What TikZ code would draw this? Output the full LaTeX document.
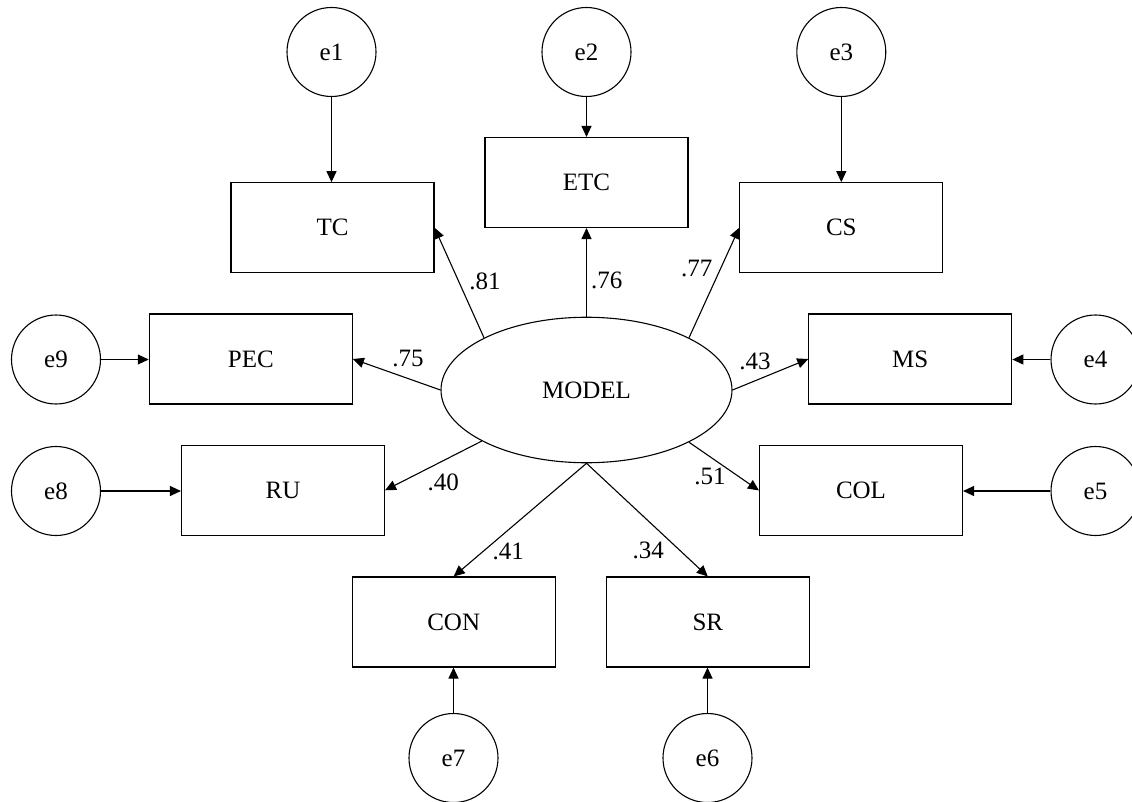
\documentclass[tikz,border=0pt]{standalone}
\usepackage{fontspec}
\setmainfont{Liberation Serif}
\usetikzlibrary{shapes.geometric,arrows.meta}
\begin{document}
\begin{tikzpicture}[x=1pt,y=-1pt,
  every node/.style={font=\fontsize{25}{30}\selectfont},
  errc/.style={draw,circle,minimum size=89pt,inner sep=0pt,line width=1.1pt},
  obsbox/.style={draw,rectangle,minimum width=203pt,minimum height=90pt,inner sep=0pt,line width=1.1pt},
  latent/.style={draw,ellipse,minimum width=291pt,minimum height=145.5pt,inner sep=0pt,line width=1.1pt},
  conn/.style={line width=1.1pt,-{Triangle[length=11pt,width=10pt]}},
  lbl/.style={inner sep=0pt}]
\useasboundingbox (0,0) rectangle (1132,802);
% latent
\node[latent] (model) at (586.5,390) {MODEL};
% observed
\node[obsbox] (tc)  at (332.5,227.7) {TC};
\node[obsbox] (etc) at (586.5,182.5) {ETC};
\node[obsbox] (cs)  at (841.3,227.7) {CS};
\node[obsbox] (pec) at (250.8,359) {PEC};
\node[obsbox] (ms)  at (910.3,359) {MS};
\node[obsbox] (ru)  at (283,490.3) {RU};
\node[obsbox] (col) at (861,490.5) {COL};
\node[obsbox] (con) at (453.7,622) {CON};
\node[obsbox] (sr)  at (707.8,622) {SR};
% errors
\node[errc] (e1) at (331.5,52) {e1};
\node[errc] (e2) at (586.5,52) {e2};
\node[errc] (e3) at (841.3,52) {e3};
\node[errc] (e4) at (1095.5,359.5) {e4};
\node[errc] (e5) at (1095.5,491) {e5};
\node[errc] (e6) at (707.5,758) {e6};
\node[errc] (e7) at (453.5,758) {e7};
\node[errc] (e8) at (56,491) {e8};
\node[errc] (e9) at (56,359.5) {e9};
% error arrows
\draw[conn] (e1.south) -- (e1.south |- tc.north);
\draw[conn] (e2.south) -- (e2.south |- etc.north);
\draw[conn] (e3.south) -- (e3.south |- cs.north);
\draw[conn] (e4.west) -- (e4.west -| ms.east);
\draw[conn] (e5.west) -- (e5.west -| col.east);
\draw[conn] (e6.north) -- (e6.north |- sr.south);
\draw[conn] (e7.north) -- (e7.north |- con.south);
\draw[conn] (e8.east) -- (e8.east -| ru.west);
\draw[conn] (e9.east) -- (e9.east -| pec.west);
% loadings
\draw[conn] (model.153) -- (tc.east);
\draw[conn] (model.north) -- (etc.south);
\draw[conn] (model.27) -- (cs.west);
\draw[conn] (model.west) -- (pec.east);
\draw[conn] (model.east) -- (ms.west);
\draw[conn] (model.206.6) -- (ru.east);
\draw[conn] (model.333.4) -- (col.west);
\draw[conn] (model.south) -- (con.north);
\draw[conn] (model.south) -- (sr.north);
% labels
\node[lbl] (l81) at (485,281.7) {.81};
\node[lbl] (l76) at (606.7,280) {.76};
\node[lbl] (l77) at (696.7,268.3) {.77};
\node[lbl] (l75) at (408,358) {.75};
\node[lbl] (l43) at (755,361.7) {.43};
\node[lbl] (l40) at (443.3,482) {.40};
\node[lbl] (l51) at (710,476.7) {.51};
\node[lbl] (l41) at (508.3,551.7) {.41};
\node[lbl] (l34) at (648.3,550) {.34};
\end{tikzpicture}
\end{document}
